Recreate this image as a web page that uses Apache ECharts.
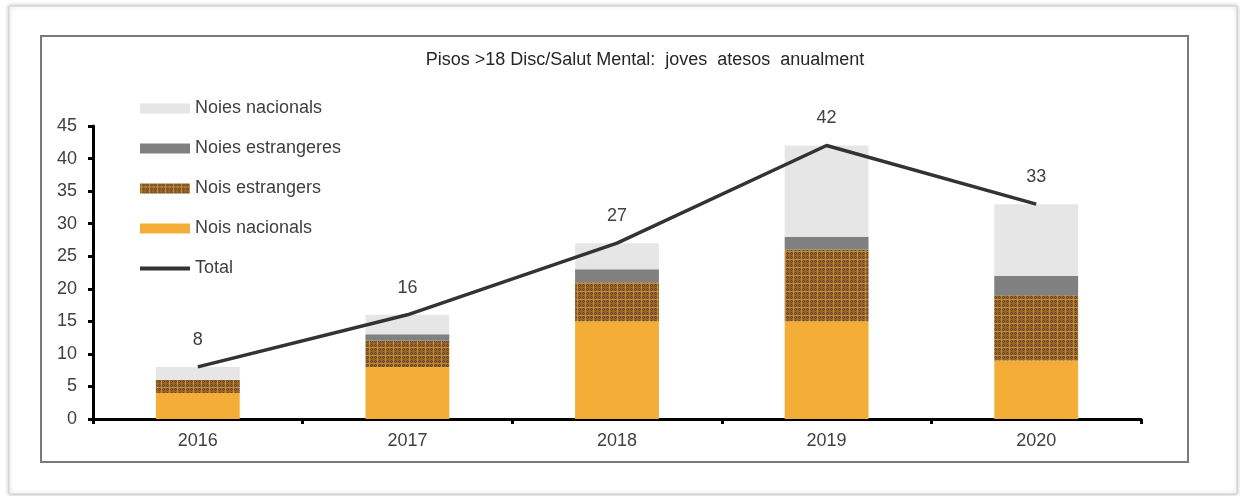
<!DOCTYPE html>
<html>
<head>
<meta charset="utf-8">
<script src="https://cdn.jsdelivr.net/npm/echarts@6/dist/echarts.min.js"></script>
<style>
  html, body { margin: 0; padding: 0; background: #fff; }
  #wrap { width: 1240px; height: 496px; }
</style>
</head>
<body>
<div id="wrap"></div>
<script>
var years = ['2016', '2017', '2018', '2019', '2020'];
var noisNacionals = [4, 8, 15, 15, 9];
var noisEstrangers = [2, 4, 6, 11, 10];
var noiesEstrangeres = [0, 1, 2, 2, 3];
var noiesNacionals = [2, 3, 4, 14, 11];
var total = [8, 16, 27, 42, 33];
var yTicks = [0, 5, 10, 15, 20, 25, 30, 35, 40, 45];

// brown checkered fill for "Nois estrangers"
function makePattern() {
  var c = document.createElement('canvas');
  c.width = 8;
  c.height = 8;
  var ctx = c.getContext('2d');
  ctx.fillStyle = '#9a6526';
  ctx.fillRect(0, 0, 8, 8);
  ctx.fillStyle = '#5e4a33';
  for (var x = 0; x < 8; x += 2) {
    ctx.fillRect(x, 1, 1, 1);
    ctx.fillRect(x, 5, 1, 1);
  }
  for (var y = 0; y < 8; y += 2) {
    ctx.fillRect(3, y, 1, 1);
    ctx.fillRect(7, y, 1, 1);
  }
  ctx.fillStyle = '#c68a36';
  ctx.fillRect(0, 3, 8, 1);
  ctx.fillRect(1, 0, 1, 8);
  return c;
}

var font = 'Liberation Sans, Arial, sans-serif';
var txt = '#404040';

var wrap = document.getElementById('wrap');
var myChart = echarts.init(wrap, null, { renderer: 'canvas' });

var option = {
  backgroundColor: '#fff',
  animation: false,
  title: {
    text: 'Pisos >18 Disc/Salut Mental:  joves  atesos  anualment',
    left: 640,
    textAlign: 'center',
    top: 46,
    textStyle: { fontFamily: font, fontSize: 18, fontWeight: 'normal', color: '#262626' }
  },
  graphic: [
    {
      type: 'rect',
      shape: { x: 9, y: 6, width: 1228, height: 488 },
      style: { fill: '#fff', stroke: '#d0d0d0', lineWidth: 1, shadowBlur: 4, shadowColor: 'rgba(0,0,0,0.25)', shadowOffsetX: 0, shadowOffsetY: 0 },
      z: -10
    },
    {
      type: 'rect',
      shape: { x: 41, y: 36, width: 1147, height: 426 },
      style: { fill: 'none', stroke: '#7a7a7a', lineWidth: 2 },
      z: -5
    }
  ],
  legend: {
    orient: 'vertical',
    left: 135,
    top: 93,
    itemWidth: 50,
    itemHeight: 10,
    itemGap: 19,
    textStyle: { fontFamily: font, fontSize: 18, color: txt, lineHeight: 21 },
    data: [
      { name: 'Noies nacionals', icon: 'rect' },
      { name: 'Noies estrangeres', icon: 'rect' },
      { name: 'Nois estrangers', icon: 'rect' },
      { name: 'Nois nacionals', icon: 'rect' },
      { name: 'Total', icon: 'path://M0,0L50,0L50,4L0,4Z', itemStyle: { color: '#333' } }
    ]
  },
  grid: { left: 93, right: 99, top: 126, bottom: 77, containLabel: false },
  xAxis: {
    type: 'category',
    data: years,
    axisLine: { lineStyle: { color: '#000', width: 3 } },
    axisTick: { show: true, length: 5, lineStyle: { color: '#000', width: 3 } },
    axisLabel: { fontFamily: font, fontSize: 18, color: txt, margin: 13 }
  },
  yAxis: {
    type: 'value',
    min: 0,
    max: yTicks[yTicks.length - 1],
    interval: yTicks[1] - yTicks[0],
    splitLine: { show: false },
    axisLine: { show: true, lineStyle: { color: '#000', width: 3 } },
    axisTick: { show: true, length: 5, lineStyle: { color: '#000', width: 3 } },
    axisLabel: { fontFamily: font, fontSize: 18, color: txt, margin: 16 }
  },
  series: [
    {
      name: 'Nois nacionals',
      type: 'bar',
      stack: 'a',
      barWidth: '40%',
      itemStyle: { color: '#f4ae38' },
      data: noisNacionals
    },
    {
      name: 'Nois estrangers',
      type: 'bar',
      stack: 'a',
      itemStyle: { color: { image: makePattern(), repeat: 'repeat' } },
      data: noisEstrangers
    },
    {
      name: 'Noies estrangeres',
      type: 'bar',
      stack: 'a',
      itemStyle: { color: '#808080' },
      data: noiesEstrangeres
    },
    {
      name: 'Noies nacionals',
      type: 'bar',
      stack: 'a',
      itemStyle: { color: '#e6e6e6' },
      data: noiesNacionals
    },
    {
      name: 'Total',
      type: 'line',
      symbol: 'circle',
      symbolSize: 0.1,
      showSymbol: true,
      itemStyle: { color: '#333' },
      lineStyle: { color: '#333', width: 3.5 },
      label: {
        show: true,
        position: 'top',
        distance: 18,
        fontFamily: font,
        fontSize: 18,
        color: txt
      },
      data: total,
      z: 5
    }
  ]
};

myChart.setOption(option);
</script>
</body>
</html>
